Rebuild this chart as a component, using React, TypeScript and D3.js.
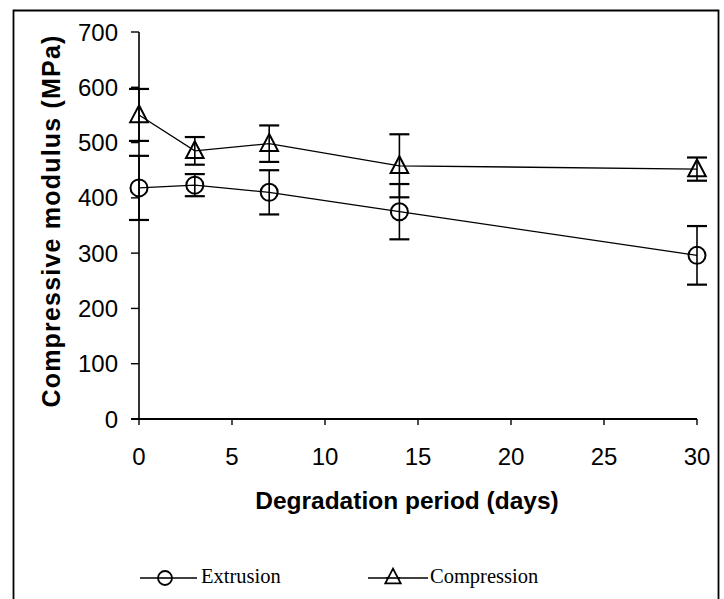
import React from "react";
import * as d3 from "d3";

const days = [0, 3, 7, 14, 30];
const extrusion = [418, 423, 410, 375, 296];
const extrusionErr = [58, 20, 40, 50, 53];
const compression = [550, 485, 498, 458, 452];
const compressionErr = [47, 25, 33, 57, 21];
const xTicks = [0, 5, 10, 15, 20, 25, 30];
const yTicks = [0, 100, 200, 300, 400, 500, 600, 700];

const W = 724;
const H = 599;
const sans = "'Liberation Sans', Arial, sans-serif";
const serif = "'Liberation Serif', 'Times New Roman', serif";

export default function App() {
  const x = d3.scaleLinear().domain([0, 30]).range([139, 697]);
  const y = d3.scaleLinear().domain([0, 700]).range([419, 32]);
  const line = d3
    .line<number>()
    .x((_, i) => x(days[i]))
    .y((d) => y(d));

  const triPath = (cx: number, cy: number, s: number) =>
    `M${cx},${cy - s * 0.6}L${cx + s * 0.55},${cy + s * 0.45}L${cx - s * 0.55},${cy + s * 0.45}Z`;

  const errBars = (vals: number[], errs: number[], key: string) =>
    vals.map((v, i) => {
      const cx = x(days[i]);
      const top = y(v + errs[i]);
      const bot = y(v - errs[i]);
      return (
        <g key={key + i} stroke="#000">
          <line x1={cx} x2={cx} y1={top} y2={bot} strokeWidth={1.6} />
          <line x1={cx - 10} x2={cx + 10} y1={top} y2={top} strokeWidth={2.2} />
          <line x1={cx - 10} x2={cx + 10} y1={bot} y2={bot} strokeWidth={2.2} />
        </g>
      );
    });

  return (
    <div style={{ position: "absolute", left: 0, top: 0 }}>
      <svg width={W} height={H} style={{ display: "block", background: "#fff" }}>
        <rect x={0} y={0} width={W} height={H} fill="#fff" />
        {/* frame */}
        <path d={`M13.5,${H + 2}V10.5H718.5V${H + 2}`} fill="none" stroke="#000" strokeWidth={1.8} />

        {/* axes */}
        <line x1={139} x2={139} y1={y(700)} y2={y(0)} stroke="#000" strokeWidth={1.6} />
        <line x1={131} x2={697} y1={y(0)} y2={y(0)} stroke="#000" strokeWidth={1.8} />
        {yTicks.map((t) => (
          <g key={"yt" + t}>
            <line x1={131} x2={139} y1={y(t)} y2={y(t)} stroke="#000" strokeWidth={1.4} />
            <text
              x={118}
              y={y(t)}
              dy="0.36em"
              textAnchor="end"
              fontFamily={sans}
              fontSize={24}
              fill="#000"
            >
              {t}
            </text>
          </g>
        ))}
        {xTicks.map((t) => (
          <g key={"xt" + t}>
            <line x1={x(t)} x2={x(t)} y1={y(0)} y2={y(0) + 6} stroke="#000" strokeWidth={1.4} />
            <text
              x={x(t)}
              y={465}
              textAnchor="middle"
              fontFamily={sans}
              fontSize={24}
              fill="#000"
            >
              {t}
            </text>
          </g>
        ))}

        {/* titles */}
        <text
          x={407}
          y={509}
          textAnchor="middle"
          fontFamily={sans}
          fontWeight="bold"
          fontSize={24.5}
          fill="#000"
        >
          Degradation period (days)
        </text>
        <text
          transform="translate(60,221) rotate(-90)"
          textAnchor="middle"
          fontFamily={sans}
          fontWeight="bold"
          fontSize={25}
          letterSpacing={1.2}
          fill="#000"
        >
          Compressive modulus (MPa)
        </text>

        {/* lines */}
        <path d={line(extrusion) || ""} fill="none" stroke="#000" strokeWidth={1.3} />
        <path d={line(compression) || ""} fill="none" stroke="#000" strokeWidth={1.3} />

        {errBars(extrusion, extrusionErr, "ee")}
        {errBars(compression, compressionErr, "ce")}

        {extrusion.map((v, i) => (
          <circle
            key={"ec" + i}
            cx={x(days[i])}
            cy={y(v)}
            r={8.5}
            fill="none"
            stroke="#000"
            strokeWidth={2}
          />
        ))}
        {compression.map((v, i) => (
          <path
            key={"ct" + i}
            d={triPath(x(days[i]), y(v), 16)}
            fill="none"
            stroke="#000"
            strokeWidth={2}
          />
        ))}

        {/* legend */}
        <line x1={140} x2={197} y1={578} y2={578} stroke="#000" strokeWidth={1.6} />
        <circle cx={165} cy={578} r={7} fill="#fff" stroke="#000" strokeWidth={1.8} />
        <line x1={158} x2={172} y1={578} y2={578} stroke="#000" strokeWidth={1.6} />
        <text x={201} y={583} fontFamily={serif} fontSize={20.5} fill="#000">
          Extrusion
        </text>
        <line x1={368} x2={428} y1={578} y2={578} stroke="#000" strokeWidth={1.6} />
        <path d={triPath(393, 577, 14)} fill="#fff" stroke="#000" strokeWidth={1.8} />
        <line x1={386} x2={400} y1={578} y2={578} stroke="#000" strokeWidth={1.6} />
        <text x={430} y={583} fontFamily={serif} fontSize={20.5} fill="#000">
          Compression
        </text>
      </svg>
    </div>
  );
}
